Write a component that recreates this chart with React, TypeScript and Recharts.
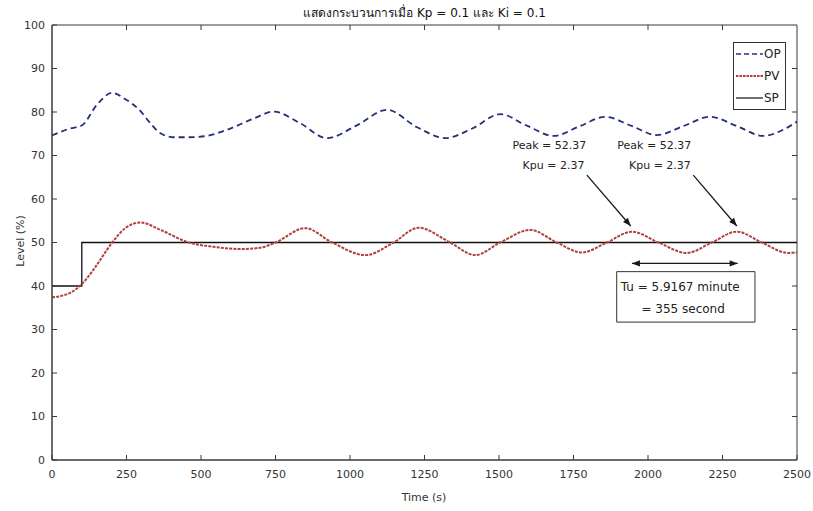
import React from "react";
import {
  LineChart,
  Line,
  XAxis,
  YAxis,
  ReferenceLine,
  ReferenceDot,
  ReferenceArea,
} from "recharts";

const xTicks = [0, 250, 500, 750, 1000, 1250, 1500, 1750, 2000, 2250, 2500];
const yTicks = [0, 10, 20, 30, 40, 50, 60, 70, 80, 90, 100];

const opTime = [0, 60, 100, 150, 202, 245, 297, 330, 364, 408, 460, 520, 587, 677, 744, 833, 923, 1020, 1124, 1225, 1320, 1410, 1504, 1595, 1683, 1770, 1856, 1945, 2029, 2120, 2208, 2300, 2387, 2450, 2500];
const opLevel = [74.6, 76.2, 76.9, 81.6, 84.4, 83.0, 80.2, 77.4, 75.1, 74.2, 74.2, 74.5, 75.9, 78.5, 80.1, 77.4, 74.0, 76.8, 80.5, 76.5, 74.0, 76.2, 79.5, 76.8, 74.5, 76.7, 78.9, 76.8, 74.7, 76.8, 78.9, 76.7, 74.5, 75.8, 77.8];

const pvTime = [0, 30, 73, 101, 146, 202, 246, 297, 364, 459, 543, 632, 699, 750, 850, 940, 1052, 1146, 1230, 1336, 1420, 1504, 1605, 1694, 1778, 1862, 1946, 2035, 2130, 2214, 2298, 2382, 2470, 2500];
const pvLevel = [37.4, 37.7, 38.9, 40.5, 44.4, 50.0, 53.3, 54.6, 52.9, 50.0, 49.0, 48.5, 48.8, 50.0, 53.3, 50.0, 47.1, 50.0, 53.4, 50.0, 47.1, 50.0, 52.9, 50.0, 47.7, 50.0, 52.5, 50.0, 47.6, 50.0, 52.5, 50.0, 47.6, 47.7];

const spTime = [0, 100, 100, 2500];
const spLevel = [40, 40, 50, 50];

// annotation anchors (time, level)
const peakArrows = [
  { from: [1795, 65.5], to: [1942, 53.8] },
  { from: [2152, 65.5], to: [2298, 53.8] },
];
const peakLabels = [
  { t: 1669, v: 72.4, text: "Peak = 52.37" },
  { t: 1683, v: 67.7, text: "Kpu = 2.37" },
  { t: 2021, v: 72.4, text: "Peak = 52.37" },
  { t: 2040, v: 67.7, text: "Kpu = 2.37" },
];
const tuSpan = [1946, 2301];
const tuLevel = 45.2;
const tuBox = { t1: 1895, t2: 2359, v1: 31.7, v2: 43.3 };
const tuLines = [
  { t: 2108, v: 39.8, text: "Tu = 5.9167 minute" },
  { t: 2118, v: 34.8, text: "= 355 second" },
];

const zip = (ts: number[], vs: number[]) => ts.map((t, i) => ({ t, v: vs[i] }));
const opData = zip(opTime, opLevel);
const pvData = zip(pvTime, pvLevel);
const spData = zip(spTime, spLevel);

const FONT = "'DejaVu Sans', Verdana, sans-serif";
const AXIS = "#3a3a3a";
const TICK_LEN = 5;

function head(x1: number, y1: number, x2: number, y2: number) {
  const a = Math.atan2(y2 - y1, x2 - x1);
  const L = 8;
  const W = 3.2;
  const bx = x2 - L * Math.cos(a);
  const by = y2 - L * Math.sin(a);
  const px = -Math.sin(a) * W;
  const py = Math.cos(a) * W;
  return `${x2},${y2} ${bx + px},${by + py} ${bx - px},${by - py}`;
}

const ArrowShape = (both: boolean) => (p: any) => {
  const { x1, y1, x2, y2 } = p;
  return (
    <g>
      <line x1={x1} y1={y1} x2={x2} y2={y2} stroke="#1a1a1a" strokeWidth={1.3} />
      <polygon points={head(x1, y1, x2, y2)} fill="#1a1a1a" />
      {both && <polygon points={head(x2, y2, x1, y1)} fill="#1a1a1a" />}
    </g>
  );
};

const TextShape = (text: string, size: number) => (p: any) => (
  <text x={p.cx} y={p.cy} textAnchor="middle" dominantBaseline="central" fontFamily={FONT} fontSize={size} fill="#222">
    {text}
  </text>
);

const BottomTick = (p: any) => (
  <g>
    <line x1={p.x} x2={p.x} y1={p.y - 6} y2={p.y - 6 - TICK_LEN} stroke={AXIS} />
    <text x={p.x} y={p.y + 4} dy="0.71em" textAnchor="middle" fontFamily={FONT} fontSize={11} fill="#333">
      {p.payload.value}
    </text>
  </g>
);

const LeftTick = (p: any) => (
  <g>
    <line x1={p.x + 6} x2={p.x + 6 + TICK_LEN} y1={p.y} y2={p.y} stroke={AXIS} />
    <text x={p.x - 1} y={p.y} dy="0.35em" textAnchor="end" fontFamily={FONT} fontSize={11} fill="#333">
      {p.payload.value}
    </text>
  </g>
);

// inward ticks on the top and right edges of the frame, placed through the axis scales
const topTicks = xTicks.slice(1, -1);
const rightTicks = yTicks.slice(1, -1);

const legendItems = [
  { name: "OP", color: "#26307a", dash: "5 3", width: 1.6 },
  { name: "PV", color: "#b0403c", dash: "2.5 1", width: 2 },
  { name: "SP", color: "#111", dash: undefined, width: 1.2 },
];

export default function App() {
  return (
    <div style={{ position: "absolute", left: 0, top: 0, width: 813, height: 511, background: "#fff" }}>
      <LineChart width={813} height={511} margin={{ top: 25, right: 16, bottom: 0, left: 0 }}>
        <XAxis
          type="number"
          dataKey="t"
          domain={[0, 2500]}
          ticks={xTicks}
          height={51}
          tickSize={0}
          tickMargin={6}
          tick={BottomTick}
          stroke={AXIS}
          allowDataOverflow
        />
        <YAxis
          type="number"
          domain={[0, 100]}
          ticks={yTicks}
          width={52}
          tickSize={0}
          tickMargin={6}
          tick={LeftTick}
          stroke={AXIS}
          allowDataOverflow
        />

        <ReferenceArea x1={0} x2={2500} y1={0} y2={100} fill="none" stroke={AXIS} strokeWidth={1} ifOverflow="visible" />
        {topTicks.map((t) => (
          <ReferenceLine
            key={"tt" + t}
            segment={[
              { x: t, y: 100 },
              { x: t, y: 98.85 },
            ]}
            stroke={AXIS}
          />
        ))}
        {rightTicks.map((v) => (
          <ReferenceLine
            key={"rt" + v}
            segment={[
              { x: 2500, y: v },
              { x: 2483, y: v },
            ]}
            stroke={AXIS}
          />
        ))}

        <ReferenceArea
          x1={tuBox.t1}
          x2={tuBox.t2}
          y1={tuBox.v1}
          y2={tuBox.v2}
          fill="#fff"
          fillOpacity={1}
          stroke="#333"
          strokeWidth={1}
        />

        <Line data={spData} dataKey="v" type="linear" stroke="#111" strokeWidth={1.3} dot={false} isAnimationActive={false} />
        <Line data={opData} dataKey="v" type="monotone" stroke="#26307a" strokeWidth={1.8} strokeDasharray="6 4" dot={false} isAnimationActive={false} />
        <Line data={pvData} dataKey="v" type="monotone" stroke="#b0403c" strokeWidth={2} strokeDasharray="3 1.2" dot={false} isAnimationActive={false} />

        {peakArrows.map((a, i) => (
          <ReferenceLine
            key={"arrow" + i}
            segment={[
              { x: a.from[0], y: a.from[1] },
              { x: a.to[0], y: a.to[1] },
            ]}
            shape={ArrowShape(false)}
          />
        ))}
        <ReferenceLine
          segment={[
            { x: tuSpan[0], y: tuLevel },
            { x: tuSpan[1], y: tuLevel },
          ]}
          shape={ArrowShape(true)}
        />
        {peakLabels.map((l, i) => (
          <ReferenceDot key={"lbl" + i} x={l.t} y={l.v} r={0} shape={TextShape(l.text, 11)} />
        ))}
        {tuLines.map((l, i) => (
          <ReferenceDot key={"tu" + i} x={l.t} y={l.v} r={0} shape={TextShape(l.text, 12)} />
        ))}
      </LineChart>

      <div
        style={{
          position: "absolute",
          left: 52,
          width: 745,
          top: 5,
          textAlign: "center",
          fontFamily: FONT,
          fontSize: 12,
          color: "#111",
          lineHeight: "16px",
        }}
      >
        แสดงกระบวนการเมื่อ Kp = 0.1 และ Ki = 0.1
      </div>

      <div
        style={{
          position: "absolute",
          left: 20,
          top: 241,
          transform: "translate(-50%, -50%) rotate(-90deg)",
          fontFamily: FONT,
          fontSize: 11,
          color: "#333",
          whiteSpace: "nowrap",
        }}
      >
        Level (%)
      </div>
      <div
        style={{
          position: "absolute",
          left: 424,
          top: 497,
          transform: "translate(-50%, -50%)",
          fontFamily: FONT,
          fontSize: 11,
          color: "#333",
          whiteSpace: "nowrap",
        }}
      >
        Time (s)
      </div>

      <div
        style={{
          position: "absolute",
          left: 733,
          top: 42,
          width: 53,
          height: 68,
          border: "1px solid #333",
          background: "#fff",
          fontFamily: FONT,
          fontSize: 12,
          color: "#222",
          boxSizing: "border-box",
        }}
      >
        {legendItems.map((it) => (
          <div key={it.name} style={{ display: "flex", alignItems: "center", height: 22, paddingLeft: 2 }}>
            <svg width={27} height={6}>
              <line x1={0} y1={3} x2={27} y2={3} stroke={it.color} strokeWidth={it.width} strokeDasharray={it.dash} />
            </svg>
            <span style={{ marginLeft: 1 }}>{it.name}</span>
          </div>
        ))}
      </div>
    </div>
  );
}
